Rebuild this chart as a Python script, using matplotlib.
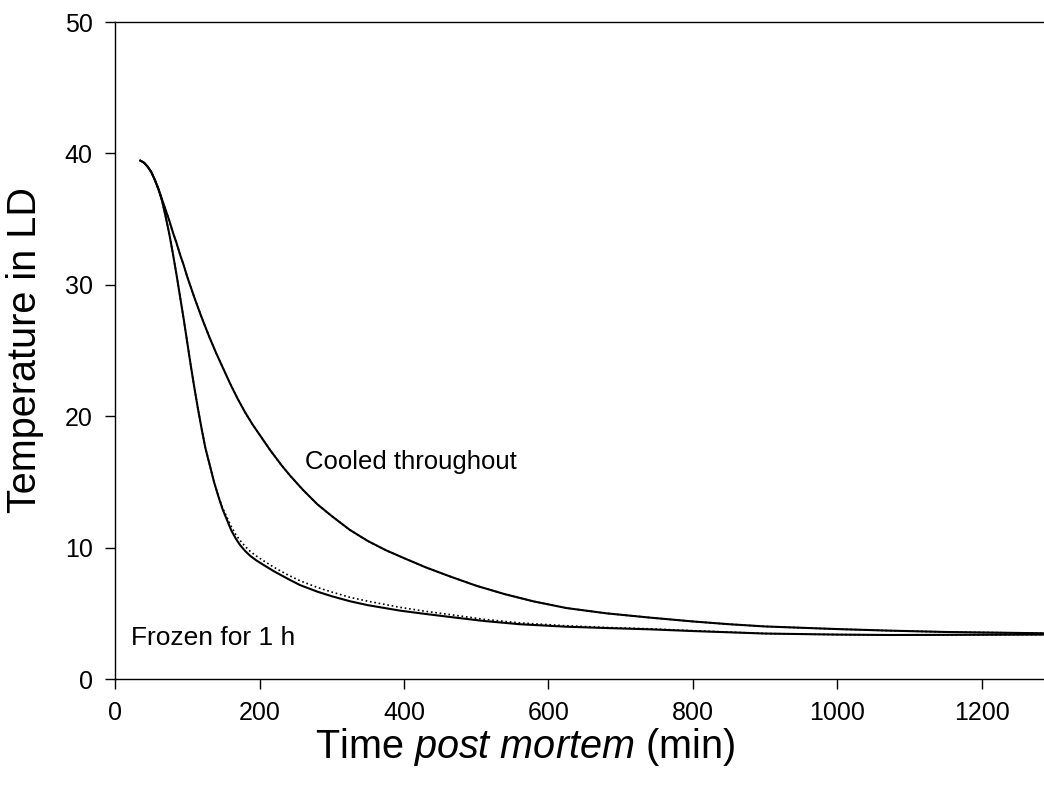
import matplotlib
matplotlib.use("Agg")
import matplotlib.pyplot as plt

plt.rcParams['font.family'] = ['Liberation Sans', 'DejaVu Sans']
plt.rcParams['mathtext.fontset'] = 'custom'
plt.rcParams['mathtext.rm'] = 'Liberation Sans'
plt.rcParams['mathtext.it'] = 'Liberation Sans:italic'

# Cooled throughout - fitted curve (solid)
cooled_t = [35, 40, 45, 50, 55, 60, 65, 70, 75, 80, 85, 90, 95, 100, 110, 120, 130,
            140, 150, 160, 170, 180, 190, 200, 215, 230, 242, 260, 280, 300, 325,
            350, 375, 400, 430, 464, 500, 540, 580, 625, 680, 741, 800, 850, 900,
            1000, 1073, 1150, 1286]
cooled_T = [39.45, 39.3, 39.0, 38.6, 38.0, 37.3, 36.5, 35.7, 34.9, 34.0, 33.2, 32.3,
            31.5, 30.6, 29.0, 27.5, 26.1, 24.8, 23.6, 22.4, 21.3, 20.3, 19.4, 18.6,
            17.4, 16.3, 15.5, 14.4, 13.3, 12.4, 11.35, 10.5, 9.8, 9.2, 8.5, 7.8, 7.1,
            6.45, 5.9, 5.4, 5.0, 4.67, 4.38, 4.17, 4.0, 3.8, 3.68, 3.58, 3.48]

# Frozen for 1 h - fitted curve (solid)
frozen_t = [35, 40, 45, 50, 55, 60, 65, 70, 75, 80, 85, 90, 95, 100, 105, 110, 115,
            120, 125, 131, 137, 143, 149, 155, 161, 167, 173, 180, 187, 195, 205,
            220, 240, 256, 280, 300, 325, 350, 395, 430, 464, 510, 560, 625, 680,
            741, 800, 900, 1000, 1073, 1286]
frozen_T = [39.45, 39.3, 39.0, 38.6, 38.0, 37.3, 36.4, 35.2, 33.9, 32.4, 30.8, 29.1,
            27.4, 25.6, 23.8, 22.1, 20.5, 19.0, 17.6, 16.3, 15.0, 13.9, 12.9, 12.1,
            11.3, 10.7, 10.2, 9.75, 9.38, 9.05, 8.7, 8.2, 7.6, 7.15, 6.65, 6.3, 5.92,
            5.62, 5.2, 4.95, 4.72, 4.42, 4.17, 3.98, 3.88, 3.78, 3.65, 3.46, 3.38,
            3.35, 3.38]

# measured values (dotted)
frozen_meas_T = [39.45, 39.3, 39.0, 38.6, 38.0, 37.3, 36.4, 35.2, 33.9, 32.4, 30.8, 29.1,
                 27.4, 25.6, 23.8, 22.1, 20.5, 19.0, 17.6, 16.3, 15.0, 13.95, 13.0, 12.3,
                 11.6, 11.0, 10.55, 10.1, 9.72, 9.38, 9.02, 8.5, 7.9, 7.48, 6.97, 6.62,
                 6.22, 5.92, 5.45, 5.15, 4.9, 4.55, 4.27, 4.05, 3.92, 3.82, 3.68, 3.46,
                 3.38, 3.35, 3.38]

fig = plt.figure(figsize=(10.44, 7.89), dpi=100)
ax = fig.add_axes([0.1102, 0.1394, 0.8898, 0.8327])

ax.plot(cooled_t, cooled_T, color='black', lw=1.2, ls=':')
ax.plot(frozen_t, frozen_meas_T, color='black', lw=1.2, ls=':')
ax.plot(cooled_t, cooled_T, color='black', lw=1.5)
ax.plot(frozen_t, frozen_T, color='black', lw=1.5)

ax.text(263, 16.5, 'Cooled throughout', fontsize=18.5, va='center', ha='left')
ax.text(22, 3.1, 'Frozen for 1 h', fontsize=19, va='center', ha='left')

ax.set_xlim(0, 1286)
ax.set_ylim(0, 50)
ax.set_xticks([0, 200, 400, 600, 800, 1000, 1200])
ax.set_yticks([0, 10, 20, 30, 40, 50])
ax.tick_params(direction='out', length=7, width=1, labelsize=18, pad=9)
ax.spines['right'].set_visible(False)
for s in ['left', 'bottom', 'top']:
    ax.spines[s].set_linewidth(1)

ax.set_xlabel('Time $\\it{post\\ mortem}$ (min)', fontsize=28.5, va='center')
ax.xaxis.set_label_coords(0.441, -0.104)
ax.set_ylabel('Temperature in LD', fontsize=28.5, va='center')
ax.yaxis.set_label_coords(-0.097, 0.5)

fig.savefig('out.png', dpi=100)
